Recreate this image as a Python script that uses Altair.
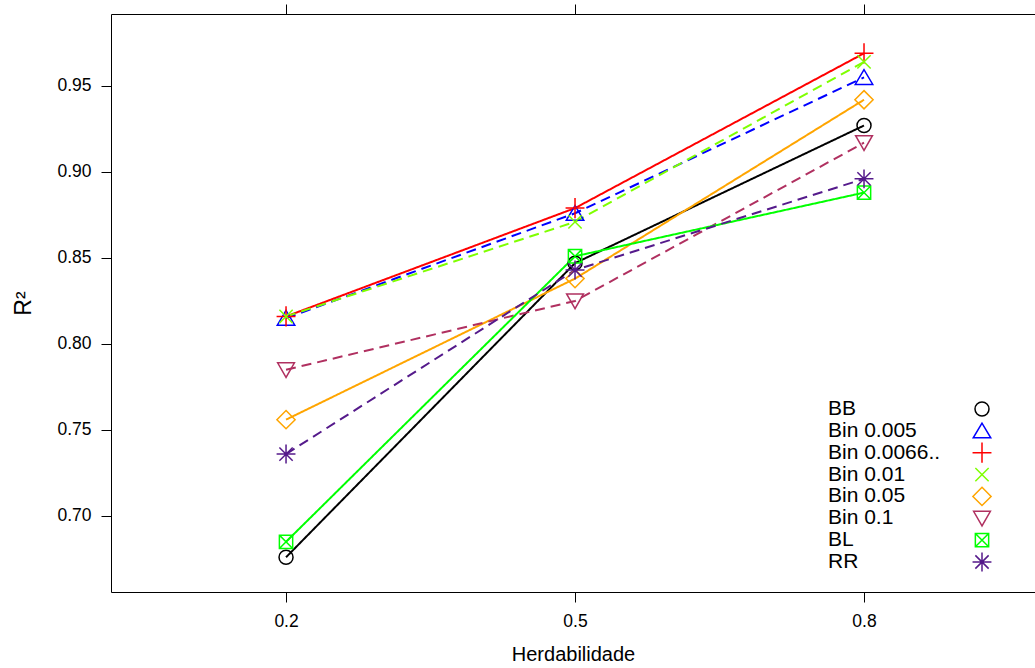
import altair as alt
import pandas as pd

herdabilidade = [0.2, 0.5, 0.8]
series = ["BB", "Bin 0.005", "Bin 0.0066..", "Bin 0.01", "Bin 0.05", "Bin 0.1", "BL", "RR"]

bb = [0.676, 0.847, 0.927]
bin_0005 = [0.815, 0.876, 0.955]
bin_00066 = [0.816, 0.879, 0.969]
bin_001 = [0.816, 0.871, 0.964]
bin_005 = [0.756, 0.838, 0.942]
bin_01 = [0.785, 0.825, 0.917]
bl = [0.685, 0.851, 0.888]
rr = [0.736, 0.843, 0.896]

values = [bb, bin_0005, bin_00066, bin_001, bin_005, bin_01, bl, rr]

colors = ["#000000", "#0000FF", "#FF0000", "#7FFF00", "#FFA500", "#B03060", "#00FF00", "#551A8B"]
dashes = [[1, 0], [10, 6], [1, 0], [10, 6], [1, 0], [10, 6], [1, 0], [10, 6]]
shapes = [
    "circle",
    "M0,-1.1L-1.25,1L1.25,1Z",
    "M-1.35,0L1.35,0M0,-1.45L0,1.45",
    "M-0.95,-0.95L0.95,0.95M-0.95,0.95L0.95,-0.95",
    "M0,-1.3L1.3,0L0,1.3L-1.3,0Z",
    "M0,1.1L-1.2,-1L1.2,-1Z",
    "M-0.95,-0.95L0.95,-0.95L0.95,0.95L-0.95,0.95ZM-0.95,-0.95L0.95,0.95M-0.95,0.95L0.95,-0.95",
    "M-1.35,0L1.35,0M0,-1.35L0,1.35M-0.95,-0.95L0.95,0.95M-0.95,0.95L0.95,-0.95",
]

rows = []
for s, vals in zip(series, values):
    for h, v in zip(herdabilidade, vals):
        rows.append({"series": s, "h": h, "r2": v})
df = pd.DataFrame(rows)
legend_df = pd.DataFrame({"series": series})

FONT = "Liberation Sans"
xscale = alt.Scale(domain=[0.0183, 0.9775], nice=False, zero=False)
yscale = alt.Scale(domain=[0.6558, 0.99185], nice=False, zero=False)
color = alt.Color("series:N", scale=alt.Scale(domain=series, range=colors), legend=None)
shape = alt.Shape("series:N", scale=alt.Scale(domain=series, range=shapes), legend=None)
dash = alt.StrokeDash("series:N", scale=alt.Scale(domain=series, range=dashes), legend=None)

lines = alt.Chart(df).mark_line(strokeWidth=2).encode(
    x=alt.X("h:Q", scale=xscale, title="Herdabilidade",
            axis=alt.Axis(values=herdabilidade, format=".1f", tickSize=10, labelPadding=10,
                          labelFontSize=17.5, titleFontSize=20, titlePadding=15)),
    y=alt.Y("r2:Q", scale=yscale, title="R²",
            axis=alt.Axis(values=[0.70, 0.75, 0.80, 0.85, 0.90, 0.95], format=".2f", tickSize=10,
                          labelPadding=10, labelFontSize=17.5, titleFontSize=23, titlePadding=21)),
    color=color,
    strokeDash=dash,
    order=alt.Order("h:Q"),
)

points = alt.Chart(df).mark_point(filled=False, size=196, strokeWidth=1.5, opacity=1).encode(
    x=alt.X("h:Q", scale=xscale, title=None,
            axis=alt.Axis(orient="top", values=herdabilidade, labels=False, tickSize=10)),
    y=alt.Y("r2:Q", scale=yscale, axis=None),
    color=color,
    shape=shape,
)

leg_y = alt.Y("series:N", scale=alt.Scale(type="point", domain=series, range=[395, 548], padding=0), axis=None)

leg_text = alt.Chart(legend_df).mark_text(
    align="left", baseline="middle", fontSize=21, font=FONT, color="black"
).encode(x=alt.value(717), y=leg_y, text="series:N")

leg_sym = alt.Chart(legend_df).mark_point(filled=False, size=196, strokeWidth=1.5, opacity=1).encode(
    x=alt.value(871), y=leg_y, color=color, shape=shape
)

chart = alt.layer(lines, points, leg_text, leg_sym).resolve_scale(
    y="independent"
).resolve_axis(x="independent").properties(
    width=924, height=578,
    autosize=alt.AutoSizeParams(type="none"),
    padding={"left": 111, "top": 14, "right": 0, "bottom": 74},
    background="white",
).configure_view(stroke="black", strokeWidth=1).configure_axis(
    domain=False, grid=False, tickColor="black", labelColor="black", titleColor="black",
    labelFont=FONT, titleFont=FONT, titleFontWeight="normal",
)

chart.save("out.html", embed_options={"renderer": "svg", "actions": False})
